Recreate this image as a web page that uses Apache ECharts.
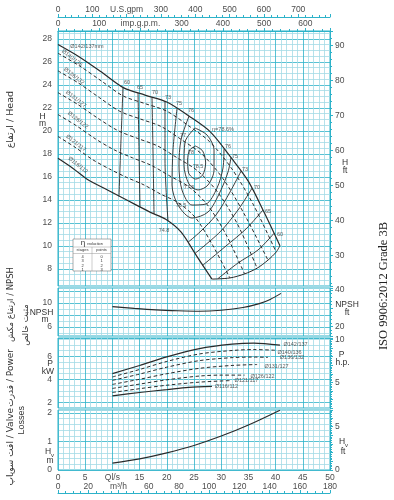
<!DOCTYPE html>
<html><head><meta charset="utf-8">
<script src="https://cdn.jsdelivr.net/npm/echarts@6/dist/echarts.min.js"></script>
<style>html,body{margin:0;padding:0;background:#fff}#c{width:394px;height:500px}</style>
</head><body><div id="c"></div>
<script>
// ---------------- data ----------------
const FT_PER_M = 3.28084, KW_PER_HP = 0.7457, USGPM_PER_LS = 15.8503, IMPGPM_PER_LS = 13.1981, M3H_PER_LS = 3.6;
const headTicks = [8,10,12,14,16,18,20,22,24,26,28];
const headFtTicks = [30,40,50,60,70,80,90];
const npshTicks = [6,10];
const npshFtTicks = [20,40];
const powerTicks = [2,4,6];
const hpTicks = [5,10];
const hvTicks = [0,1,2];
const hvFtTicks = [0,5];

// H-Q curves (Q l/s, H m)
const h142 = [[0,27.5],[4,26.4],[8,25.1],[12,23.75],[16,23.1],[20,22.5],[24,21.3],[28,19.9],[32,17.55],[35,15.6],[38,12.8],[40.8,10.0]];
const h140 = [[0,26.74],[3.98,25.63],[7.97,24.33],[11.95,23.03],[15.94,22.37],[19.92,21.72],[23.9,20.47],[27.89,19.04],[31.87,16.75],[35.86,13.62],[40.1,9.45]];
const h136 = [[0,25.21],[3.79,24.14],[7.58,22.89],[11.37,21.69],[15.16,21.02],[18.95,20.37],[22.74,19.21],[26.53,17.93],[30.32,15.84],[34.11,12.87],[38.6,8.75]];
const h131 = [[0,23.31],[3.66,22.28],[7.32,21.09],[10.98,20.02],[14.64,19.33],[18.3,18.68],[21.96,17.63],[25.62,16.53],[29.28,14.7],[32.94,11.93],[36.6,8.05]];
const h126 = [[0,21.41],[3.43,20.42],[6.86,19.3],[10.29,18.35],[13.72,17.64],[17.15,16.99],[20.58,16.06],[24.01,15.14],[27.44,13.57],[30.87,10.99],[34.3,7.55]];
const h121 = [[0,19.5],[3.16,18.56],[6.32,17.5],[9.48,16.67],[12.64,15.94],[15.8,15.29],[18.96,14.47],[22.12,13.74],[25.28,12.43],[28.44,10.04],[31.6,7.2]];
const h116 = [[0,17.6],[2.83,16.7],[5.66,15.7],[8.49,15.0],[11.3,14.3],[14.15,13.6],[17.0,12.9],[19.8,12.3],[22.6,11.2],[25.5,9.1],[28.3,7.1]];
const endOfCurves = [[28.3,7.1],[31.6,7.2],[34.3,7.55],[36.6,8.05],[38.6,8.75],[40.1,9.45],[40.8,10.0]];

// efficiency iso-lines
const eff60L = [[11.95,23.76],[11.58,19.2],[11.21,14.3]];
const eff60R = [[39.71,11.08],[36.76,9.63],[33.09,8.5],[29.4,7.14]];
const eff65L = [[14.71,23.31],[14.89,18.33],[15.07,13.38]];
const eff65R = [[37.68,13.11],[34.56,11.46],[30.88,9.98],[26.6,8.3]];
const eff70L = [[17.28,22.91],[17.46,18.33],[17.65,12.78]];
const eff70R = [[35.66,15.0],[33.09,13.11],[29.78,11.2],[25.18,9.33]];
const eff73L = [[19.67,22.58],[19.67,17.46],[20.22,12.15]];
const eff73R = [[33.64,16.48],[31.62,14.67],[29.04,12.67],[26.1,11.2],[23.9,10.3]];
const eff75 = [[21.88,21.94],[21.14,18.33],[20.96,15.28],[22.06,13.54],[24.63,12.41],[27.57,12.93],[29.78,14.67],[31.25,16.41],[31.8,17.67]];
const eff76 = [[24.08,21.27],[22.61,19.2],[22.24,17.02],[22.79,14.85],[24.63,13.54],[27.21,13.63],[29.23,15.02],[30.33,16.76],[30.51,18.43]];
const eff77 = [[25.18,20.24],[27.39,19.63],[28.68,18.33],[28.68,16.59],[27.57,15.28],[25.74,14.85],[24.08,15.37],[23.16,17.02],[23.35,19.02],[25.18,20.24]];
const eff78 = [[25.3,18.67],[26.59,18.24],[27.14,17.2],[26.59,16.15],[25.3,15.8],[24.01,16.33],[23.83,17.46],[24.2,18.33],[25.3,18.67]];

const impLabelText = ['Ø142/137mm','Ø140/136','Ø136/132','Ø131/127','Ø126/122','Ø121/117','Ø116/112'];
const impLabelPos = [[5.33,27.37],[2.57,26.33],[2.94,24.76],[3.31,22.76],[3.68,20.93],[3.31,18.93],[3.68,17.02]];
const effLabelText = ['60','65','70','73','75','76','76','75','73','70','65','60','77','78','78.5','77.5','76.5','74.8','η=78.6%'];
const effLabelPos = [[12.68,24.24],[15.07,23.8],[17.83,23.37],[20.22,22.93],[22.24,22.41],[24.45,21.8],[31.25,18.67],[32.54,17.8],[34.38,16.59],[36.58,15.11],[38.6,13.02],[40.81,11.02],[22.98,19.63],[24.45,18.07],[25.74,16.93],[24.08,15.11],[22.61,13.54],[19.49,11.37],[30.33,20.07]];

// NPSH (m)
const npsh = [[10,9.4],[14,9.1],[18,8.85],[22,8.7],[26,8.62],[30,8.8],[34,9.25],[37,9.9],[39,10.6],[41,11.6]];
// Power (kW)
const p142 = [[10,4.49],[15,5.2],[20,5.95],[26,6.67],[32,7.05],[36,7.15],[40.8,6.97]];
const p140 = [[10,4.2],[15,4.85],[20,5.55],[26,6.2],[32,6.5],[36,6.58],[40.1,6.52]];
const p136 = [[10,3.9],[15,4.45],[20,5.05],[26,5.62],[32,5.88],[36,5.93],[38.6,5.9]];
const p131 = [[10,3.55],[15,4.0],[20,4.48],[26,4.95],[32,5.2],[36.6,5.28]];
const p126 = [[10,3.2],[15,3.58],[20,3.95],[26,4.28],[30,4.36],[34.3,4.36]];
const p121 = [[10,2.85],[15,3.18],[20,3.48],[26,3.75],[31.6,3.88]];
const p116 = [[10,2.55],[15,2.85],[20,3.1],[24,3.3],[28.3,3.38]];
const pwrLabelText = ['Ø142/137','Ø140/136','Ø136/132','Ø131/127','Ø126/122','Ø121/117','Ø116/112'];
const pwrLabelPos = [[43.66,6.98],[42.56,6.37],[43.0,5.85],[40.17,5.15],[37.6,4.28],[34.65,3.85],[30.97,3.33]];
// Valve losses (m)
const hv = [[10,0.24],[15,0.39],[20,0.6],[25,0.86],[30,1.19],[35,1.58],[40.8,2.1]];

// η reduction table
const etaStages = ['4','3','2','1'];
const etaPoints = ['0','1','2','3'];

// ---------------- chart ----------------
const FF = "'Liberation Sans', Arial, 'DejaVu Sans', sans-serif";
const M = '#2db2c9', m = '#a3dbe6', T = 'rgba(0,0,0,0)';
const dark = '#2a2a2a';
const lbl = {color:'#4d4d4d', fontSize:8.5, fontFamily:FF};
const HEAD_MIN = 6.5, HEAD_MAX = 6.5 + 255/11.5;
const NPSH_MIN = 4.5, NPSH_MAX = 12.5;
const P_MIN = 1.5, P_MAX = 1.5 + 70/11.5;
const HV_MIN = 0, HV_MAX = 60/28.5;

function pick(list){ return v => { const t = list.find(t => Math.abs(t - v) < 1e-6); return t === undefined ? '' : String(t); }; }

const grids = [
  {left:58, top:31, width:272, height:255},
  {left:58, top:288, width:272, height:48},
  {left:58, top:338, width:272, height:70},
  {left:58, top:410, width:272, height:60}
].map(g => Object.assign(g, {show:true, borderColor:M, borderWidth:1, backgroundColor:'#fff', outerBoundsMode:'none', containLabel:false}));

function qAxis(g, show){
  return {type:'value', gridIndex:g, min:0, max:50, interval:1, position:'bottom',
    axisLine:{show:false, onZero:false}, axisTick:{show:false},
    axisLabel:{show:show, interval:0, margin:3, hideOverlap:false, ...lbl,
      formatter: v => { const r = Math.round(v); if (Math.abs(v-r) > 1e-6 || r % 5) return ''; return r === 10 ? 'Ql/s' : String(r); }},
    splitLine:{show:true, lineStyle:{color:[M,m,m,m,m], width:0.8}}};
}
function flowAxis(max, pos, offset, name, inside, minorSplit, g){
  return {type:'value', gridIndex:g, min:0, max:max, interval: pos==='top'?100:20, position:pos, offset:offset,
    axisLine:{show:true, onZero:false, lineStyle:{color:M, width:1}},
    axisTick:{show:true, inside:inside, length:3, lineStyle:{color:M}},
    minorTick:{show:true, splitNumber:minorSplit, length:2, lineStyle:{color:M}},
    axisLabel:{...lbl, inside:inside, margin: inside?2:3, interval:0, hideOverlap:false,
      formatter: v => { const r = Math.round(v); if (Math.abs(v-r) > 1e-6 || r % (pos==='top'?100:20)) return ''; return r === (pos==='top'?200:40) ? name : String(r); }},
    splitLine:{show:false}};
}
function yLeft(g, min, max, interval, colors, ticks){
  return {type:'value', gridIndex:g, min:min, max:max, interval:interval, position:'left',
    axisLine:{show:false, onZero:false}, axisTick:{show:false},
    axisLabel:{...lbl, margin:6, interval:0, hideOverlap:false, formatter:pick(ticks)},
    splitLine:{show:true, lineStyle:{color:colors, width:0.8}}};
}
function yRight(g, min, max, splitNumber, ticks){
  return {type:'value', gridIndex:g, min:min, max:max, splitNumber:splitNumber, position:'right',
    axisLine:{show:true, onZero:false, lineStyle:{color:M, width:1}},
    axisTick:{show:true, length:3, lineStyle:{color:M}},
    minorTick:{show:true, splitNumber:5, length:2, lineStyle:{color:M}},
    axisLabel:{...lbl, margin:5, interval:0, hideOverlap:false, formatter:pick(ticks)},
    splitLine:{show:false}};
}

const yIdx = [0,2,4,6];
function ln(data, g, dashed, width){
  return {type:'line', xAxisIndex:g, yAxisIndex:yIdx[g], data:data, symbol:'none', smooth:0.3, silent:true, z:5,
    lineStyle:{color:dark, width:width||1, type: dashed ? [3.5,2.5] : 'solid'}};
}
function labels(texts, pos, g, fs, rots){
  return {type:'scatter', xAxisIndex:g, yAxisIndex:yIdx[g], symbol:'circle', symbolSize:1, silent:true, z:10,
    itemStyle:{color:T},
    data: texts.map((t,i) => ({value:pos[i], name:t, label:{rotate: rots ? rots[i] : 0}})),
    label:{show:true, position:'inside', formatter:'{b}', fontSize:fs, color:'#333', fontFamily:FF}};
}

const headCurves = [h142,h140,h136,h131,h126,h121,h116];
const powerCurves = [p142,p140,p136,p131,p126,p121,p116];
const contours = [eff60L,eff60R,eff65L,eff65R,eff70L,eff70R,eff73L,eff73R,eff75,eff76,eff77,eff78];

const series = [];
headCurves.forEach((c,i) => series.push(ln(c, 0, i>0 && i<6, (i===0||i===6)?1.2:1)));
series.push(ln(endOfCurves, 0, false, 1));
contours.forEach(c => series.push(ln(c, 0, false, 0.9)));
series.push(labels(impLabelText, impLabelPos, 0, 5.5, impLabelText.map((t,i)=> i===0?0:-38)));
series.push(labels(effLabelText, effLabelPos, 0, 5.5));
series.push(ln(npsh, 1, false, 1.1));
powerCurves.forEach((c,i) => series.push(ln(c, 2, i>0 && i<6, (i===0||i===6)?1.2:1)));
series.push(labels(pwrLabelText, pwrLabelPos, 2, 5.5));
series.push(ln(hv, 3, false, 1.1));

function txt(x, y, text, o){
  o = o || {};
  const al = o.align || 'center', va = o.va || 'middle';
  return {type:'text', x:x, y:y, rotation:o.rot||0, z:100, silent:true,
    style:{text:text, fontSize:o.fs||8, fontFamily:o.ff||FF, fill:o.color||'#333',
      align:al, verticalAlign:va, textAlign:al, textVerticalAlign:va}};
}
const R = Math.PI/2;
const AR = "'DejaVu Sans', 'Liberation Sans', sans-serif";
const graphics = [
  txt(11, 91, 'ارتفاع / Head', {rot:R, align:'right', fs:9.5, ff:AR}),
  txt(11, 267, 'ارتفاع مکش / NPSH', {rot:R, align:'right', fs:8.5, ff:AR}),
  txt(26, 325, 'مثبت خالص', {rot:R, fs:8.5, ff:AR}),
  txt(11, 349, 'قدرت / Power', {rot:R, align:'right', fs:9, ff:AR}),
  txt(11, 408, 'افت سوپاپ / Valve', {rot:R, align:'right', fs:9, ff:AR}),
  txt(22, 406, 'Losses', {rot:R, align:'right', fs:9}),
  txt(42.5, 116.5, 'H', {fs:8.5}), txt(42.5, 123.5, 'm', {fs:8.5}),
  txt(41.5, 313, 'NPSH', {fs:8.5}), txt(45, 320, 'm', {fs:8.5}),
  txt(50, 364, 'P', {fs:8.5}), txt(48, 371.5, 'kW', {fs:8.5}),
  txt(48, 452, 'H', {fs:8.5}), txt(52.5, 455, 'v', {fs:6}), txt(50, 460.5, 'm', {fs:8.5}),
  txt(345, 163, 'H', {fs:8.5}), txt(345, 170.5, 'ft', {fs:8.5}),
  txt(347, 305, 'NPSH', {fs:8.5}), txt(347, 312.5, 'ft', {fs:8.5}),
  txt(341.5, 355, 'P', {fs:8.5}), txt(342.5, 363, 'h.p.', {fs:8.5}),
  txt(342, 442, 'H', {fs:8.5}), txt(346.5, 445, 'v', {fs:6}), txt(343, 452, 'ft', {fs:8.5}),
  txt(384, 286, 'ISO 9906:2012 Grade 3B', {rot:R, fs:12.5, ff:"'Liberation Serif', 'Times New Roman', serif", color:'#222'}),
  {type:'rect', z:99, silent:true, shape:{x:73, y:239, width:38, height:32}, style:{fill:'#fff', stroke:'#777', lineWidth:0.6}},
  {type:'line', z:100, silent:true, shape:{x1:73, y1:247, x2:111, y2:247}, style:{stroke:'#999', lineWidth:0.5}},
  {type:'line', z:100, silent:true, shape:{x1:73, y1:253.5, x2:111, y2:253.5}, style:{stroke:'#999', lineWidth:0.5}},
  {type:'line', z:100, silent:true, shape:{x1:92, y1:247, x2:92, y2:271}, style:{stroke:'#999', lineWidth:0.5}},
  txt(83, 243, 'η', {fs:8}), txt(95, 243.5, 'reduction', {fs:3.8}),
  txt(82.5, 250.3, 'stages', {fs:4}), txt(101.5, 250.3, 'points', {fs:4})
];
etaStages.forEach((s,i) => { graphics.push(txt(82.5, 257 + i*4.2, s, {fs:4})); graphics.push(txt(101.5, 257 + i*4.2, etaPoints[i], {fs:4})); });

const option = {
  animation:false,
  backgroundColor:'#fff',
  grid: grids,
  xAxis: [
    qAxis(0,false), qAxis(1,false), qAxis(2,false), qAxis(3,true),
    flowAxis(50*USGPM_PER_LS, 'top', 14, 'U.S.gpm', false, 5, 0),
    flowAxis(50*IMPGPM_PER_LS, 'top', 0, 'imp.g.p.m.', false, 5, 0),
    flowAxis(50*M3H_PER_LS, 'bottom', 23, 'm³/h', true, 4, 3)
  ],
  yAxis: [
    yLeft(0, HEAD_MIN, HEAD_MAX, 0.5, [m,m,m,M], headTicks),
    yRight(0, HEAD_MIN*FT_PER_M, HEAD_MAX*FT_PER_M, 7, headFtTicks),
    yLeft(1, NPSH_MIN, NPSH_MAX, 0.5, [T,m,T,M], npshTicks),
    yRight(1, NPSH_MIN*FT_PER_M, NPSH_MAX*FT_PER_M, 3, npshFtTicks),
    yLeft(2, P_MIN, P_MAX, 0.5, [m,M,m,m], powerTicks),
    yRight(2, P_MIN/KW_PER_HP, P_MAX/KW_PER_HP, 8, hpTicks),
    yLeft(3, HV_MIN, HV_MAX, 0.2, [M,m,m,m,m], hvTicks),
    yRight(3, HV_MIN*FT_PER_M, HV_MAX*FT_PER_M, 7, hvFtTicks)
  ],
  series: series,
  graphic: {elements: graphics}
};
const chart = echarts.init(document.getElementById('c'), null, {renderer:'canvas'});
chart.setOption(option);
</script></body></html>
